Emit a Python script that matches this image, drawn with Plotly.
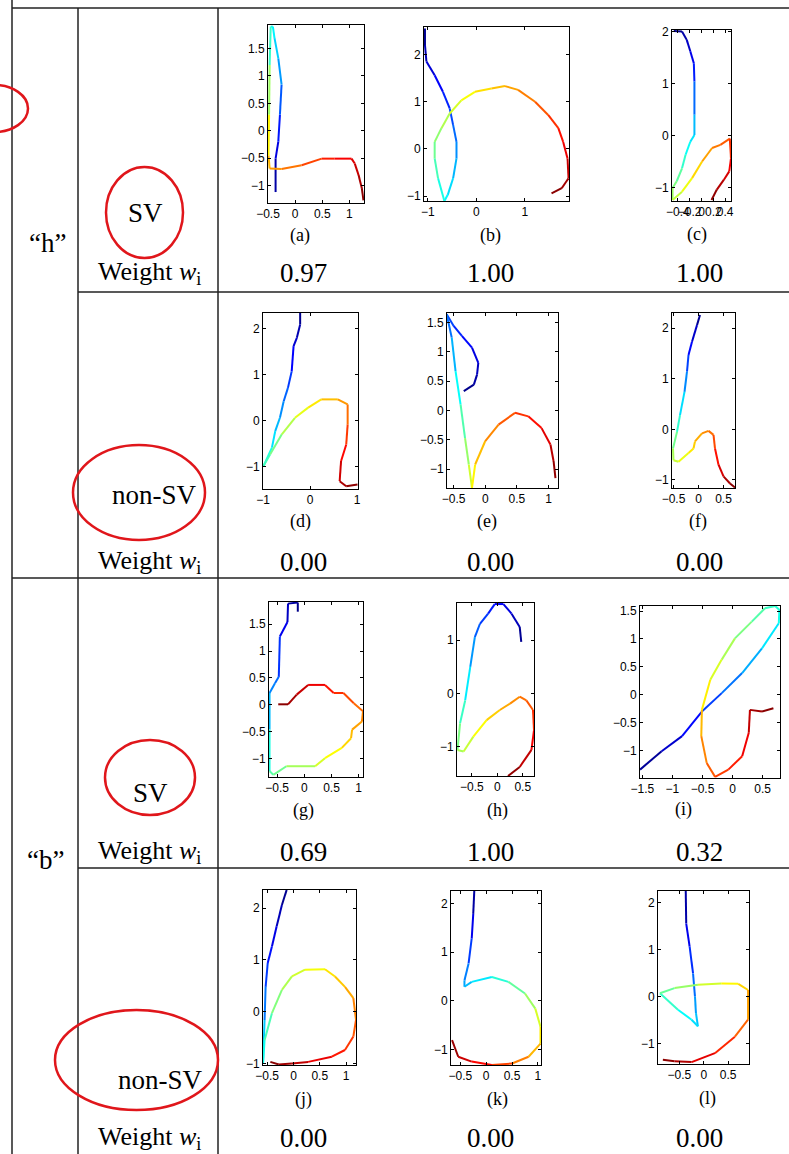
import plotly.graph_objects as go
import numpy as np

W, H = 789, 1154

# ---------------- data (trajectories) ----------------
a_x = [-0.36, -0.36, -0.31, -0.28, -0.25, -0.31, -0.38, -0.41, -0.45, -0.47, -0.48, -0.49, -0.47, -0.25, 0.12, 0.49, 0.73, 1.04, 1.10, 1.17, 1.23, 1.26]
a_y = [-1.12, -0.51, -0.20, 0.29, 0.84, 1.32, 1.69, 1.90, 1.90, 1.20, 0.29, -0.45, -0.69, -0.70, -0.63, -0.51, -0.51, -0.51, -0.60, -0.81, -1.05, -1.27]

b_x = [-1.06, -1.06, -1.03, -0.86, -0.69, -0.55, -0.48, -0.41, -0.41, -0.48, -0.59, -0.66, -0.79, -0.86, -0.86, -0.72, -0.55, -0.31, -0.03, 0.31, 0.59, 0.86, 1.21, 1.48, 1.69, 1.79, 1.88, 1.90, 1.76, 1.55]
b_y = [2.55, 2.20, 1.85, 1.56, 1.21, 0.86, 0.51, 0.15, -0.20, -0.62, -0.97, -1.10, -0.62, -0.20, 0.15, 0.44, 0.75, 1.03, 1.21, 1.28, 1.33, 1.25, 1.00, 0.72, 0.44, 0.15, -0.20, -0.62, -0.83, -0.94]

c_x = [-0.47, -0.33, -0.25, -0.19, -0.13, -0.12, -0.12, -0.12, -0.19, -0.27, -0.33, -0.42, -0.49, -0.49, -0.33, -0.16, 0.01, 0.18, 0.32, 0.48, 0.50, 0.47, 0.38, 0.26, 0.17]
c_y = [2.01, 2.00, 1.84, 1.62, 1.39, 1.04, 0.40, 0.01, -0.12, -0.37, -0.63, -0.88, -1.01, -1.24, -1.08, -0.82, -0.50, -0.24, -0.18, -0.06, -0.44, -0.69, -0.85, -1.04, -1.24]

d_x = [-0.21, -0.21, -0.28, -0.35, -0.39, -0.47, -0.56, -0.64, -0.74, -0.81, -0.99, -0.85, -0.60, -0.32, -0.04, 0.24, 0.59, 0.80, 0.80, 0.77, 0.66, 0.63, 0.77, 1.01]
d_y = [2.34, 2.09, 1.80, 1.62, 1.07, 0.71, 0.42, 0.06, -0.23, -0.59, -0.99, -0.74, -0.30, 0.06, 0.28, 0.46, 0.46, 0.35, -0.09, -0.52, -0.88, -1.32, -1.43, -1.39]

e_x = [-0.34, -0.18, -0.13, -0.11, -0.21, -0.37, -0.50, -0.61, -0.53, -0.47, -0.39, -0.32, -0.26, -0.21, -0.16, 0.00, 0.21, 0.47, 0.68, 0.89, 1.03, 1.08, 1.11]
e_y = [0.33, 0.44, 0.61, 0.81, 1.07, 1.27, 1.44, 1.64, 1.24, 0.67, 0.10, -0.47, -0.92, -1.32, -0.92, -0.52, -0.24, -0.04, -0.10, -0.30, -0.58, -0.86, -1.15]

f_x = [0.03, -0.03, -0.13, -0.20, -0.23, -0.28, -0.37, -0.43, -0.51, -0.50, -0.40, -0.20, -0.10, -0.07, 0.07, 0.20, 0.30, 0.33, 0.40, 0.50, 0.63, 0.73]
f_y = [2.26, 2.06, 1.73, 1.47, 1.14, 0.74, 0.28, -0.05, -0.38, -0.61, -0.64, -0.47, -0.38, -0.24, -0.08, -0.03, -0.11, -0.38, -0.70, -0.93, -1.07, -1.15]

g_x = [-0.12, -0.12, -0.30, -0.31, -0.45, -0.47, -0.54, -0.64, -0.64, -0.64, -0.57, -0.33, 0.20, 0.38, 0.69, 0.86, 0.88, 1.06, 1.08, 0.91, 0.72, 0.54, 0.38, 0.07, -0.14, -0.30, -0.48]
g_y = [1.73, 1.90, 1.88, 1.54, 1.27, 0.52, 0.40, 0.22, -0.46, -1.23, -1.30, -1.14, -1.14, -0.99, -0.80, -0.62, -0.46, -0.31, -0.12, 0.03, 0.22, 0.22, 0.37, 0.37, 0.19, 0.01, 0.01]

h_x = [0.47, 0.44, 0.28, 0.12, -0.05, -0.18, -0.34, -0.44, -0.53, -0.63, -0.73, -0.78, -0.66, -0.47, -0.21, 0.05, 0.25, 0.44, 0.57, 0.70, 0.72, 0.67, 0.44, 0.21]
h_y = [0.97, 1.25, 1.50, 1.68, 1.68, 1.50, 1.31, 1.06, 0.50, -0.13, -0.56, -1.06, -1.09, -0.81, -0.50, -0.31, -0.19, -0.06, -0.13, -0.31, -0.69, -1.06, -1.38, -1.55]

i_x = [-1.54, -1.18, -0.84, -0.51, -0.18, 0.16, 0.49, 0.77, 0.78, 0.71, 0.54, 0.32, 0.04, -0.18, -0.37, -0.51, -0.52, -0.43, -0.29, -0.07, 0.16, 0.27, 0.29, 0.49, 0.68]
i_y = [-1.34, -1.01, -0.74, -0.30, 0.03, 0.39, 0.83, 1.28, 1.52, 1.59, 1.55, 1.31, 1.01, 0.63, 0.27, -0.27, -0.74, -1.22, -1.47, -1.34, -1.10, -0.68, -0.27, -0.30, -0.24]

j_x = [-0.13, -0.22, -0.32, -0.41, -0.49, -0.53, -0.55, -0.58, -0.55, -0.41, -0.22, -0.03, 0.22, 0.60, 0.79, 0.98, 1.14, 1.19, 1.14, 0.98, 0.73, 0.28, -0.03, -0.28, -0.44]
j_y = [2.35, 2.06, 1.65, 1.26, 0.94, 0.48, -0.16, -1.00, -0.55, -0.03, 0.42, 0.68, 0.81, 0.82, 0.68, 0.48, 0.26, -0.16, -0.48, -0.74, -0.87, -0.97, -1.00, -1.02, -0.97]

k_x = [-0.23, -0.25, -0.28, -0.34, -0.42, -0.42, -0.28, 0.11, 0.43, 0.75, 0.95, 1.05, 1.05, 0.82, 0.50, 0.11, -0.28, -0.54, -0.66]
k_y = [2.26, 1.79, 1.28, 0.77, 0.42, 0.29, 0.39, 0.49, 0.39, 0.15, -0.16, -0.53, -0.88, -1.15, -1.29, -1.32, -1.25, -1.15, -0.81]

l_x = [-0.37, -0.36, -0.29, -0.22, -0.18, -0.16, -0.12, -0.25, -0.53, -0.90, -0.60, -0.12, 0.36, 0.71, 0.91, 0.91, 0.64, 0.23, -0.25, -0.60, -0.84]
l_y = [2.24, 1.55, 1.06, 0.49, 0.00, -0.35, -0.63, -0.49, -0.28, 0.07, 0.18, 0.25, 0.28, 0.27, 0.14, -0.49, -0.85, -1.20, -1.39, -1.37, -1.34]

panel_labels = ["(a)", "(b)", "(c)", "(d)", "(e)", "(f)", "(g)", "(h)", "(i)", "(j)", "(k)", "(l)"]
weights_h_sv = ["0.97", "1.00", "1.00"]
weights_h_nonsv = ["0.00", "0.00", "0.00"]
weights_b_sv = ["0.69", "1.00", "0.32"]
weights_b_nonsv = ["0.00", "0.00", "0.00"]

# axis ranges and ticks per panel
x_ranges = [[-0.5, 1.27], [-1.08, 1.91], [-0.5, 0.5], [-1, 1.02], [-0.605, 1.15], [-0.53, 0.73],
            [-0.65, 1.08], [-0.79, 0.72], [-1.54, 0.79], [-0.58, 1.19], [-0.68, 1.06], [-0.94, 0.93]]
y_ranges = [[-1.32, 1.93], [-1.10, 2.58], [-1.26, 2.03], [-1.49, 2.34], [-1.32, 1.66], [-1.16, 2.30],
            [-1.34, 1.91], [-1.55, 1.70], [-1.49, 1.59], [-1.03, 2.35], [-1.32, 2.26], [-1.43, 2.24]]
x_ticks = [[-0.5, 0, 0.5, 1], [-1, 0, 1], [-0.4, -0.2, 0, 0.2, 0.4], [-1, 0, 1], [-0.5, 0, 0.5, 1], [-0.5, 0, 0.5],
           [-0.5, 0, 0.5, 1], [-0.5, 0, 0.5], [-1.5, -1, -0.5, 0, 0.5], [-0.5, 0, 0.5, 1], [-0.5, 0, 0.5, 1], [-0.5, 0, 0.5]]
y_ticks = [[-1, -0.5, 0, 0.5, 1, 1.5], [-1, 0, 1, 2], [-1, 0, 1, 2], [-1, 0, 1, 2], [-1, -0.5, 0, 0.5, 1, 1.5], [-1, 0, 1, 2],
           [-1, -0.5, 0, 0.5, 1, 1.5], [-1, 0, 1], [-1, -0.5, 0, 0.5, 1, 1.5], [-1, 0, 1, 2], [-1, 0, 1, 2], [-1, 0, 1, 2]]

series = [(a_x, a_y), (b_x, b_y), (c_x, c_y), (d_x, d_y), (e_x, e_y), (f_x, f_y),
          (g_x, g_y), (h_x, h_y), (i_x, i_y), (j_x, j_y), (k_x, k_y), (l_x, l_y)]

# ---------------- layout (pixel boxes) ----------------
boxes = [(268, 25, 364, 203), (424, 27, 569, 201), (672, 30, 731, 201),
         (263, 313, 358, 489), (447, 313, 558, 488), (672, 313, 735, 488),
         (269, 602, 363, 777), (457, 603, 534, 776), (640, 606, 780, 778),
         (263, 890, 356, 1065), (451, 891, 541, 1065), (658, 891, 749, 1064)]
label_pos = [(300, 235), (490, 235), (697, 234), (300, 521), (487, 521), (698, 521),
             (303, 810), (498, 810), (683, 809), (303, 1099), (497, 1099), (707, 1098)]


def jet(t):
    r = min(max(1.5 - abs(4 * t - 3), 0), 1)
    g = min(max(1.5 - abs(4 * t - 2), 0), 1)
    b = min(max(1.5 - abs(4 * t - 1), 0), 1)
    return f"rgb({int(r*255)},{int(g*255)},{int(b*255)})"


def px(x):
    return x / W


def py(y):
    return 1 - y / H


fig = go.Figure()
SANS = "Liberation Sans, Arial, sans-serif"
SERIF = "Liberation Serif, Times New Roman, serif"


def add_text(x, y, text, size, family=SERIF):
    fig.add_annotation(x=px(x), y=py(y), xref="paper", yref="paper", showarrow=False,
                       xanchor="center", yanchor="middle", text=text,
                       font=dict(family=family, size=size, color="black"))


for idx, ((xs, ys), box) in enumerate(zip(series, boxes)):
    n = idx + 1
    xa = "x" if n == 1 else f"x{n}"
    ya = "y" if n == 1 else f"y{n}"
    l, t, r, b = box
    xr, yr = x_ranges[idx], y_ranges[idx]
    sx = (r - l) / (xr[1] - xr[0])
    sy = (b - t) / (yr[1] - yr[0])
    xs = np.array(xs, float)
    ys = np.array(ys, float)
    seg = np.hypot(np.diff(xs) * sx, np.diff(ys) * sy)
    cum = np.concatenate([[0], np.cumsum(seg)])
    tot = cum[-1]
    for k in range(len(xs) - 1):
        tm = (cum[k] + cum[k + 1]) / 2 / tot
        fig.add_trace(go.Scatter(x=xs[k:k + 2], y=ys[k:k + 2], mode="lines",
                                 line=dict(color=jet(tm), width=2),
                                 xaxis=xa, yaxis=ya, showlegend=False, hoverinfo="skip"))
    axcommon = dict(showgrid=False, zeroline=False, showline=True, mirror="ticks",
                    linecolor="black", linewidth=1, ticks="inside", ticklen=3,
                    tickcolor="black", tickangle=0, automargin=False,
                    tickfont=dict(family=SANS, size=12, color="black"))
    xkey = "xaxis" if n == 1 else f"xaxis{n}"
    ykey = "yaxis" if n == 1 else f"yaxis{n}"
    fig.update_layout(**{
        xkey: dict(domain=[px(l), px(r)], range=xr, tickvals=x_ticks[idx], anchor=ya, **axcommon),
        ykey: dict(domain=[py(b), py(t)], range=yr, tickvals=y_ticks[idx], anchor=xa, **axcommon),
    })
    add_text(label_pos[idx][0], label_pos[idx][1], panel_labels[idx], 18)

# table lines
line_style = dict(color="#222222", width=1.5)
table_lines = [
    (12, 8, 789, 8), (12, 0, 12, 1154), (78, 8, 78, 1154), (218, 8, 218, 1154),
    (78, 292, 789, 292), (12, 578, 789, 578), (78, 868, 789, 868),
]
for x0, y0, x1, y1 in table_lines:
    fig.add_shape(type="line", xref="paper", yref="paper", x0=px(x0), y0=py(y0), x1=px(x1), y1=py(y1),
                  line=line_style)

# weight rows
weight_rows = [(273, weights_h_sv), (562, weights_h_nonsv), (852, weights_b_sv), (1138, weights_b_nonsv)]
col_x = [303, 491, 699]
for yrow, vals in weight_rows:
    add_text(149, yrow, "Weight <i>w</i><sub>i</sub>", 26)
    for cx, v in zip(col_x, vals):
        add_text(cx, yrow, v, 27)

# row labels
row_texts = [(47, 243, "“h”"), (45, 860, "“b”"), (145, 213, "SV"), (154, 495, "non-SV"),
             (150, 793, "SV"), (160, 1080, "non-SV")]
for x, y, txt in row_texts:
    add_text(x, y, txt, 27)

# red hand-drawn circles
red = dict(color="#e0161b", width=2.5)
circles = [(-40, 85, 28, 132), (106, 167, 183, 258), (73, 445, 205, 540), (105, 740, 195, 815), (55, 1010, 218, 1110)]
for x0, y0, x1, y1 in circles:
    fig.add_shape(type="circle", xref="paper", yref="paper", x0=px(x0), x1=px(x1), y0=py(y1), y1=py(y0),
                  line=red)

fig.update_layout(width=W, height=H, margin=dict(l=0, r=0, t=0, b=0, autoexpand=False), autosize=False,
                  paper_bgcolor="white", plot_bgcolor="white", showlegend=False)
fig.write_html("out.html", config={"displayModeBar": False},
               post_script="document.body.style.margin='0';document.documentElement.style.overflow='hidden';document.body.style.overflow='hidden';")
